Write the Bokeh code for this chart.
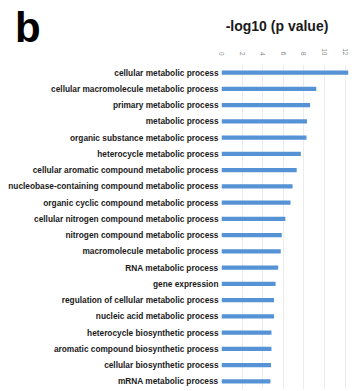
import math
from bokeh.plotting import figure
from bokeh.layouts import column
from bokeh.models import Div, FactorRange, FixedTicker
from bokeh.embed import file_html
from bokeh.resources import INLINE

terms = [
    "cellular metabolic process",
    "cellular macromolecule metabolic process",
    "primary metabolic process",
    "metabolic process",
    "organic substance metabolic process",
    "heterocycle metabolic process",
    "cellular aromatic compound metabolic process",
    "nucleobase-containing compound metabolic process",
    "organic cyclic compound metabolic process",
    "cellular nitrogen compound metabolic process",
    "nitrogen compound metabolic process",
    "macromolecule metabolic process",
    "RNA metabolic process",
    "gene expression",
    "regulation of cellular metabolic process",
    "nucleic acid metabolic process",
    "heterocycle biosynthetic process",
    "aromatic compound biosynthetic process",
    "cellular biosynthetic process",
    "mRNA metabolic process",
]
neg_log10_p = [12.3, 9.2, 8.6, 8.3, 8.25, 7.7, 7.3, 6.9, 6.7, 6.2,
               5.85, 5.75, 5.5, 5.25, 5.1, 5.1, 4.85, 4.85, 4.8, 4.75]
x_ticks = [0, 2, 4, 6, 8, 10, 12, 14]
panel_letter = "b"
axis_title = "-log10 (p value)"

FONT = "Liberation Sans"
W, HEAD_H, TOTAL_H = 364, 45, 391

header_html = (
    f'<div style="position:relative;width:{W}px;height:{HEAD_H}px;'
    f"font-family:'{FONT}',sans-serif;font-weight:bold;\">"
    f'<div style="position:absolute;left:15px;top:7px;font-size:42px;'
    f'line-height:1;color:#000000;">{panel_letter}</div>'
    f'<div style="position:absolute;left:177px;top:19px;width:200px;'
    f'text-align:center;font-size:14px;line-height:1;color:#1a1a1a;">'
    f'{axis_title}</div></div>'
)
head = Div(text=header_html, width=W, height=HEAD_H, margin=0)

p = figure(
    width=W, height=TOTAL_H - HEAD_H,
    y_range=FactorRange(factors=list(reversed(terms)), range_padding=0),
    x_range=(0, 13.88),
    x_axis_location="above",
    output_backend="svg", toolbar_location=None,
    min_border_left=221, min_border_right=0,
    min_border_top=18, min_border_bottom=2,
    outline_line_color=None,
)

p.hbar(y=terms, right=neg_log10_p, left=0, height=0.27,
       fill_color="#5592d6", line_color=None)

p.xaxis.ticker = FixedTicker(ticks=x_ticks)
p.xaxis.axis_line_color = None
p.xaxis.major_tick_line_color = None
p.xaxis.major_tick_out = 0
p.xaxis.major_tick_in = 0
p.xaxis.minor_tick_line_color = None
p.xaxis.major_label_orientation = -math.pi / 2
p.xaxis.major_label_text_font = FONT
p.xaxis.major_label_text_font_size = "6.5px"
p.xaxis.major_label_text_color = "#8a8a8a"
p.xaxis.major_label_standoff = 9

p.yaxis.axis_line_color = None
p.yaxis.major_tick_line_color = None
p.yaxis.major_tick_out = 0
p.yaxis.major_tick_in = 0
p.yaxis.minor_tick_line_color = None
p.yaxis.major_label_text_font = FONT
p.yaxis.major_label_text_font_style = "bold"
p.yaxis.major_label_text_font_size = "8.3px"
p.yaxis.major_label_text_color = "#1a1a1a"
p.yaxis.major_label_standoff = 3

p.xgrid.grid_line_color = "#ececec"
p.ygrid.grid_line_color = None

open("out.html", "w").write(file_html(column(head, p, spacing=0), INLINE))
